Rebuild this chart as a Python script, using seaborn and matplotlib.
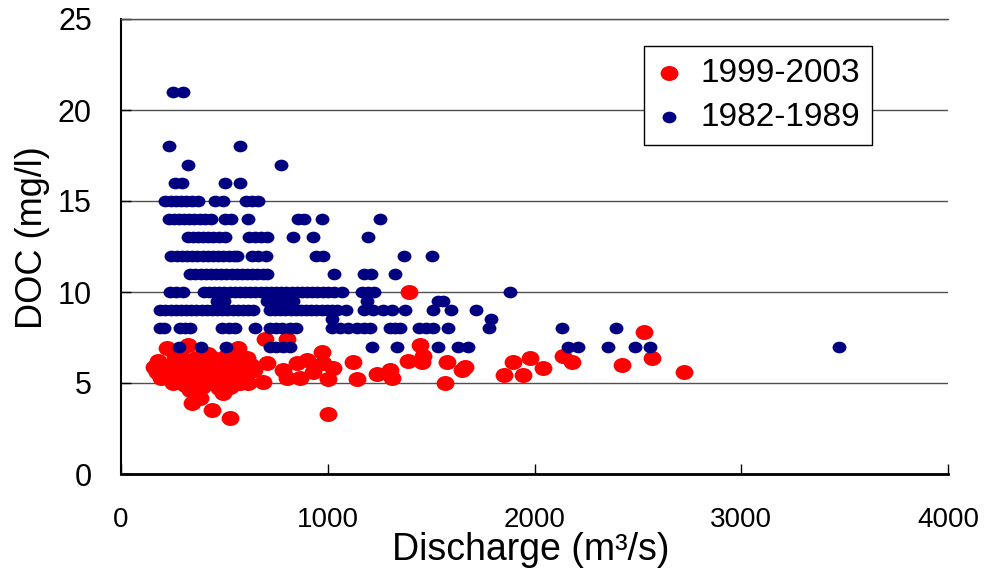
import numpy as np
import pandas as pd
import matplotlib
matplotlib.use("Agg")
import matplotlib.pyplot as plt
from matplotlib.path import Path
import seaborn as sns

# -----------------------------
# STYLE
# -----------------------------
sns.set_style("white")
plt.rcParams['font.family'] = ['Liberation Sans', 'DejaVu Sans']
plt.rcParams['text.color'] = 'black'
plt.rcParams['axes.labelcolor'] = 'black'

RED = "#FF0000"
NAVY = "#000080"

# -----------------------------
# DATA
# -----------------------------
# 1982-1989: DOC was reported in whole mg/l, so the points sit on rows
b21 = [250, 300]
b18 = [232, 576]
b17 = [324, 774]
b16 = [261, 295, 503, 576]
b15 = [215, 240, 265, 290, 315, 345, 372, 457, 491, 607, 635, 665]
b14 = [230, 255, 280, 305, 330, 355, 380, 405, 433, 505, 530, 613,
       858, 883, 972, 1253]
b13 = [322, 347, 372, 397, 422, 447, 472, 505, 617, 646, 675, 704,
       832, 929, 1195]
b12 = [244, 270, 295, 320, 345, 370, 395, 420, 445, 470, 495, 520,
       545, 563, 636, 665, 699, 941, 975, 1369, 1504]
b11 = [336, 360, 385, 410, 435, 460, 485, 510, 535, 560, 585, 610,
       635, 660, 685, 704, 1030, 1173, 1207, 1325]
b10 = [235, 265, 298, 400, 425, 450, 475, 500, 525, 550, 575, 600,
       625, 650, 675, 700, 725, 750, 775, 800, 825, 850, 875, 900,
       925, 950, 975, 1000, 1030, 1067, 1168, 1197, 1226, 1880]
b9_5 = [464, 500, 706, 755, 800, 832, 1190, 1533, 1558]
b9 = [188, 215, 240, 265, 290, 315, 340, 365, 390, 415, 440, 465,
      490, 515, 540, 565, 590, 615, 640, 720, 745, 770, 795, 820,
      845, 870, 895, 920, 945, 970, 995, 1020, 1045, 1088, 1175,
      1220, 1265, 1310, 1374, 1509, 1596, 1717]
b8_5 = [1020, 1790]
b8 = [188, 208, 285, 310, 334, 488, 520, 551, 648, 720, 750, 780,
      815, 846, 1020, 1060, 1100, 1140, 1175, 1204, 1300, 1325, 1350,
      1441, 1475, 1509, 1582, 1780, 2133, 2394]
b7 = [280, 387, 508, 720, 750, 785, 818, 1214, 1335, 1533, 1630,
      1680, 2160, 2210, 2356, 2486, 2559, 3475]

blue_rows = {21: b21, 18: b18, 17: b17, 16: b16, 15: b15, 14: b14,
             13: b13, 12: b12, 11: b11, 10: b10, 9.5: b9_5, 9: b9,
             8.5: b8_5, 8: b8, 7: b7}

# 1999-2003
red_q = [222, 325, 696, 801, 972, 1122, 1142, 1238, 1301, 1311, 1393,
         1446, 1461, 1456, 1388, 1567, 1577, 1664, 1649, 1895, 1978,
         1853, 1945, 2041, 2138, 2180, 2423, 2530, 2568, 2723,
         382, 343, 440, 527, 1001, 687, 1001, 977, 1025,
         174, 271, 237, 334, 445, 566, 609, 527, 493, 576, 609, 706,
         784, 851, 900, 929, 866, 803,
         180, 200, 220, 240, 250, 260, 280, 290, 300, 310, 320, 330,
         345, 355, 365, 380, 390, 400, 410, 420, 430, 440, 455, 465,
         475, 490, 500, 510, 520, 535, 545, 555, 570, 585, 600, 615,
         630, 645, 160, 195, 285, 370, 415, 460, 505, 560]
red_doc = [6.9, 7.1, 7.4, 7.4, 6.7, 6.15, 5.2, 5.5, 5.7, 5.3, 10.0,
           7.1, 6.5, 6.15, 6.2, 5.0, 6.15, 5.9, 5.7, 6.15, 6.4,
           5.45, 5.45, 5.8, 6.5, 6.15, 6.0, 7.8, 6.4, 5.6,
           4.2, 3.9, 3.5, 3.1, 3.3, 5.05, 5.2, 6.1, 5.8,
           5.6, 6.0, 5.2, 4.6, 6.4, 6.9, 6.4, 4.8, 4.45, 5.0, 5.5, 6.1,
           5.7, 6.1, 6.25, 5.6, 5.3, 5.3,
           6.2, 5.8, 5.5, 6.0, 5.0, 6.5, 5.4, 5.9, 6.3, 4.9, 5.6, 6.1,
           5.2, 5.8, 6.4, 5.5, 4.8, 6.0, 5.3, 6.6, 5.7, 5.0, 6.2, 5.4,
           4.7, 5.9, 5.2, 6.5, 5.6, 4.9, 6.1, 5.4, 5.8, 6.3, 5.5, 5.0,
           6.0, 5.7, 5.9, 5.3, 6.7, 5.0, 5.9, 5.6, 5.8, 6.6]

blue_q = [q for lvl, qs in blue_rows.items() for q in qs]
blue_doc = [lvl for lvl, qs in blue_rows.items() for q in qs]

red_df = pd.DataFrame({"Q": red_q, "DOC": red_doc})
blue_df = pd.DataFrame({"Q": blue_q, "DOC": blue_doc})

# slightly flattened ellipse marker, like the spreadsheet original
circ = Path.unit_circle()
ellipse = Path(circ.vertices * np.array([1.0, 0.84]), circ.codes)

# -----------------------------
# PLOT
# -----------------------------
fig = plt.figure(figsize=(9.89, 5.71), dpi=100)
ax = fig.add_axes([121 / 989, 1 - 474 / 571, 827 / 989, 455 / 571])

sns.scatterplot(data=red_df, x="Q", y="DOC", ax=ax, color=RED,
                marker=ellipse, s=165, linewidth=0, label="1999-2003")
sns.scatterplot(data=blue_df, x="Q", y="DOC", ax=ax, color=NAVY,
                marker=ellipse, s=100, linewidth=0, label="1982-1989")

ax.set_xlim(0, 4000)
ax.set_ylim(0, 25)
ax.set_xticks([0, 1000, 2000, 3000, 4000])
ax.set_yticks([0, 5, 10, 15, 20, 25])

ax.yaxis.grid(True, color="#505050", linewidth=1.0)
ax.xaxis.grid(False)
ax.set_axisbelow(True)

ax.spines["right"].set_visible(False)
ax.spines["top"].set_color("#505050")
ax.spines["top"].set_linewidth(1.0)
ax.spines["left"].set_color("black")
ax.spines["left"].set_linewidth(1.5)
ax.spines["bottom"].set_color("black")
ax.spines["bottom"].set_linewidth(2.0)

ax.tick_params(axis="x", direction="in", length=7, width=1, pad=24,
               labelsize=20, colors="black", bottom=True)
ax.tick_params(axis="y", direction="in", length=7, width=1, pad=21,
               labelsize=22, colors="black", left=True)

ax.set_xlabel("Discharge (m³/s)", fontsize=27)
ax.set_ylabel("DOC (mg/l)", fontsize=26)
ax.xaxis.set_label_coords(0.496, -0.127)
ax.yaxis.set_label_coords(-0.086, 0.519)

leg = ax.legend(loc="upper left", bbox_to_anchor=(644 / 989, 1 - 46 / 571),
                bbox_transform=fig.transFigure, borderaxespad=0,
                frameon=True, fancybox=False, edgecolor="black",
                framealpha=1, fontsize=24, borderpad=0.35,
                labelspacing=0.4, handlelength=0.8, handletextpad=0.55)
leg.get_frame().set_linewidth(1.0)

plt.savefig("out.png", dpi=100)
